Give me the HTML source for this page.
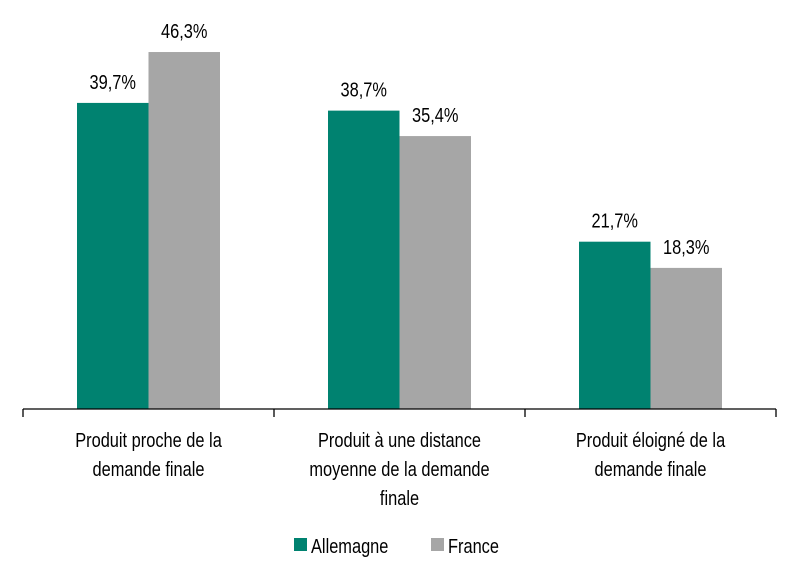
<!DOCTYPE html>
<html><head><meta charset="utf-8"><style>
html,body{margin:0;padding:0;background:#fff;}
svg text{font-family:"Liberation Sans",Arial,sans-serif;fill:#000;}
</style></head><body>
<svg id="chart" width="798" height="579" viewBox="0 0 798 579" xmlns="http://www.w3.org/2000/svg">
<g id="bars"></g>
<g id="labels"></g>
<g id="axis"></g>
<g id="legend"></g>
</svg>
<script>
const categories = [["Produit proche de la","demande finale"],["Produit à une distance","moyenne de la demande","finale"],["Produit éloigné de la","demande finale"]];
const allemagne = [39.7, 38.7, 21.7];
const france = [46.3, 35.4, 18.3];
const seriesNames = ["Allemagne","France"];
const colors = ["#008270","#a6a6a6"];
const NS="http://www.w3.org/2000/svg";
const baseY=409, pxPer=7.71, left=23, right=776;
const catW=(right-left)/categories.length;
const yScale=v=>baseY-v*pxPer;
const xCat=i=>left+i*catW;
function mk(tag,attrs,parent){const e=document.createElementNS(NS,tag);for(const k in attrs)e.setAttribute(k,attrs[k]);parent.appendChild(e);return e;}
function txt(s,x,y,parent,size){const t=mk("text",{transform:`translate(${x},${y}) scale(0.82,1)`,"text-anchor":"middle","font-size":size},parent);t.textContent=s;return t;}
const bars=document.getElementById("bars"),labels=document.getElementById("labels"),axis=document.getElementById("axis"),legend=document.getElementById("legend");
const series=[allemagne,france];
const barW=71.5;
categories.forEach((c,i)=>{
  const cx=xCat(i)+catW/2;
  series.forEach((s,j)=>{
    const x=cx-barW+j*barW, y=yScale(s[i]);
    const r=mk("rect",{x:x,y:y,width:barW,height:baseY-y,fill:colors[j]},bars);
    
    
    const t=txt(s[i].toFixed(1).replace('.',',')+'%',x+barW/2,y-14,labels,20);
    
    
  });
  c.forEach((line,k)=>{
    const t=txt(line,cx,447+k*29,axis,20);
    
    
  });
});
const al=mk("line",{x1:left,y1:baseY,x2:right,y2:baseY,stroke:"#000","stroke-width":1.3},axis);


for(let i=0;i<=categories.length;i++){
  const tk=mk("line",{x1:xCat(i),y1:baseY,x2:xCat(i),y2:baseY+8,stroke:"#000","stroke-width":1.3},axis);
  
  
}
const legX=[294,431];
seriesNames.forEach((n,j)=>{
  const sq=mk("rect",{x:legX[j],y:538,width:13,height:13,fill:colors[j]},legend);
  
  
  const t=mk("text",{transform:`translate(${legX[j]+17},553) scale(0.82,1)`,"font-size":20},legend);
  t.textContent=n;
  
  
});
</script>
</body></html>
